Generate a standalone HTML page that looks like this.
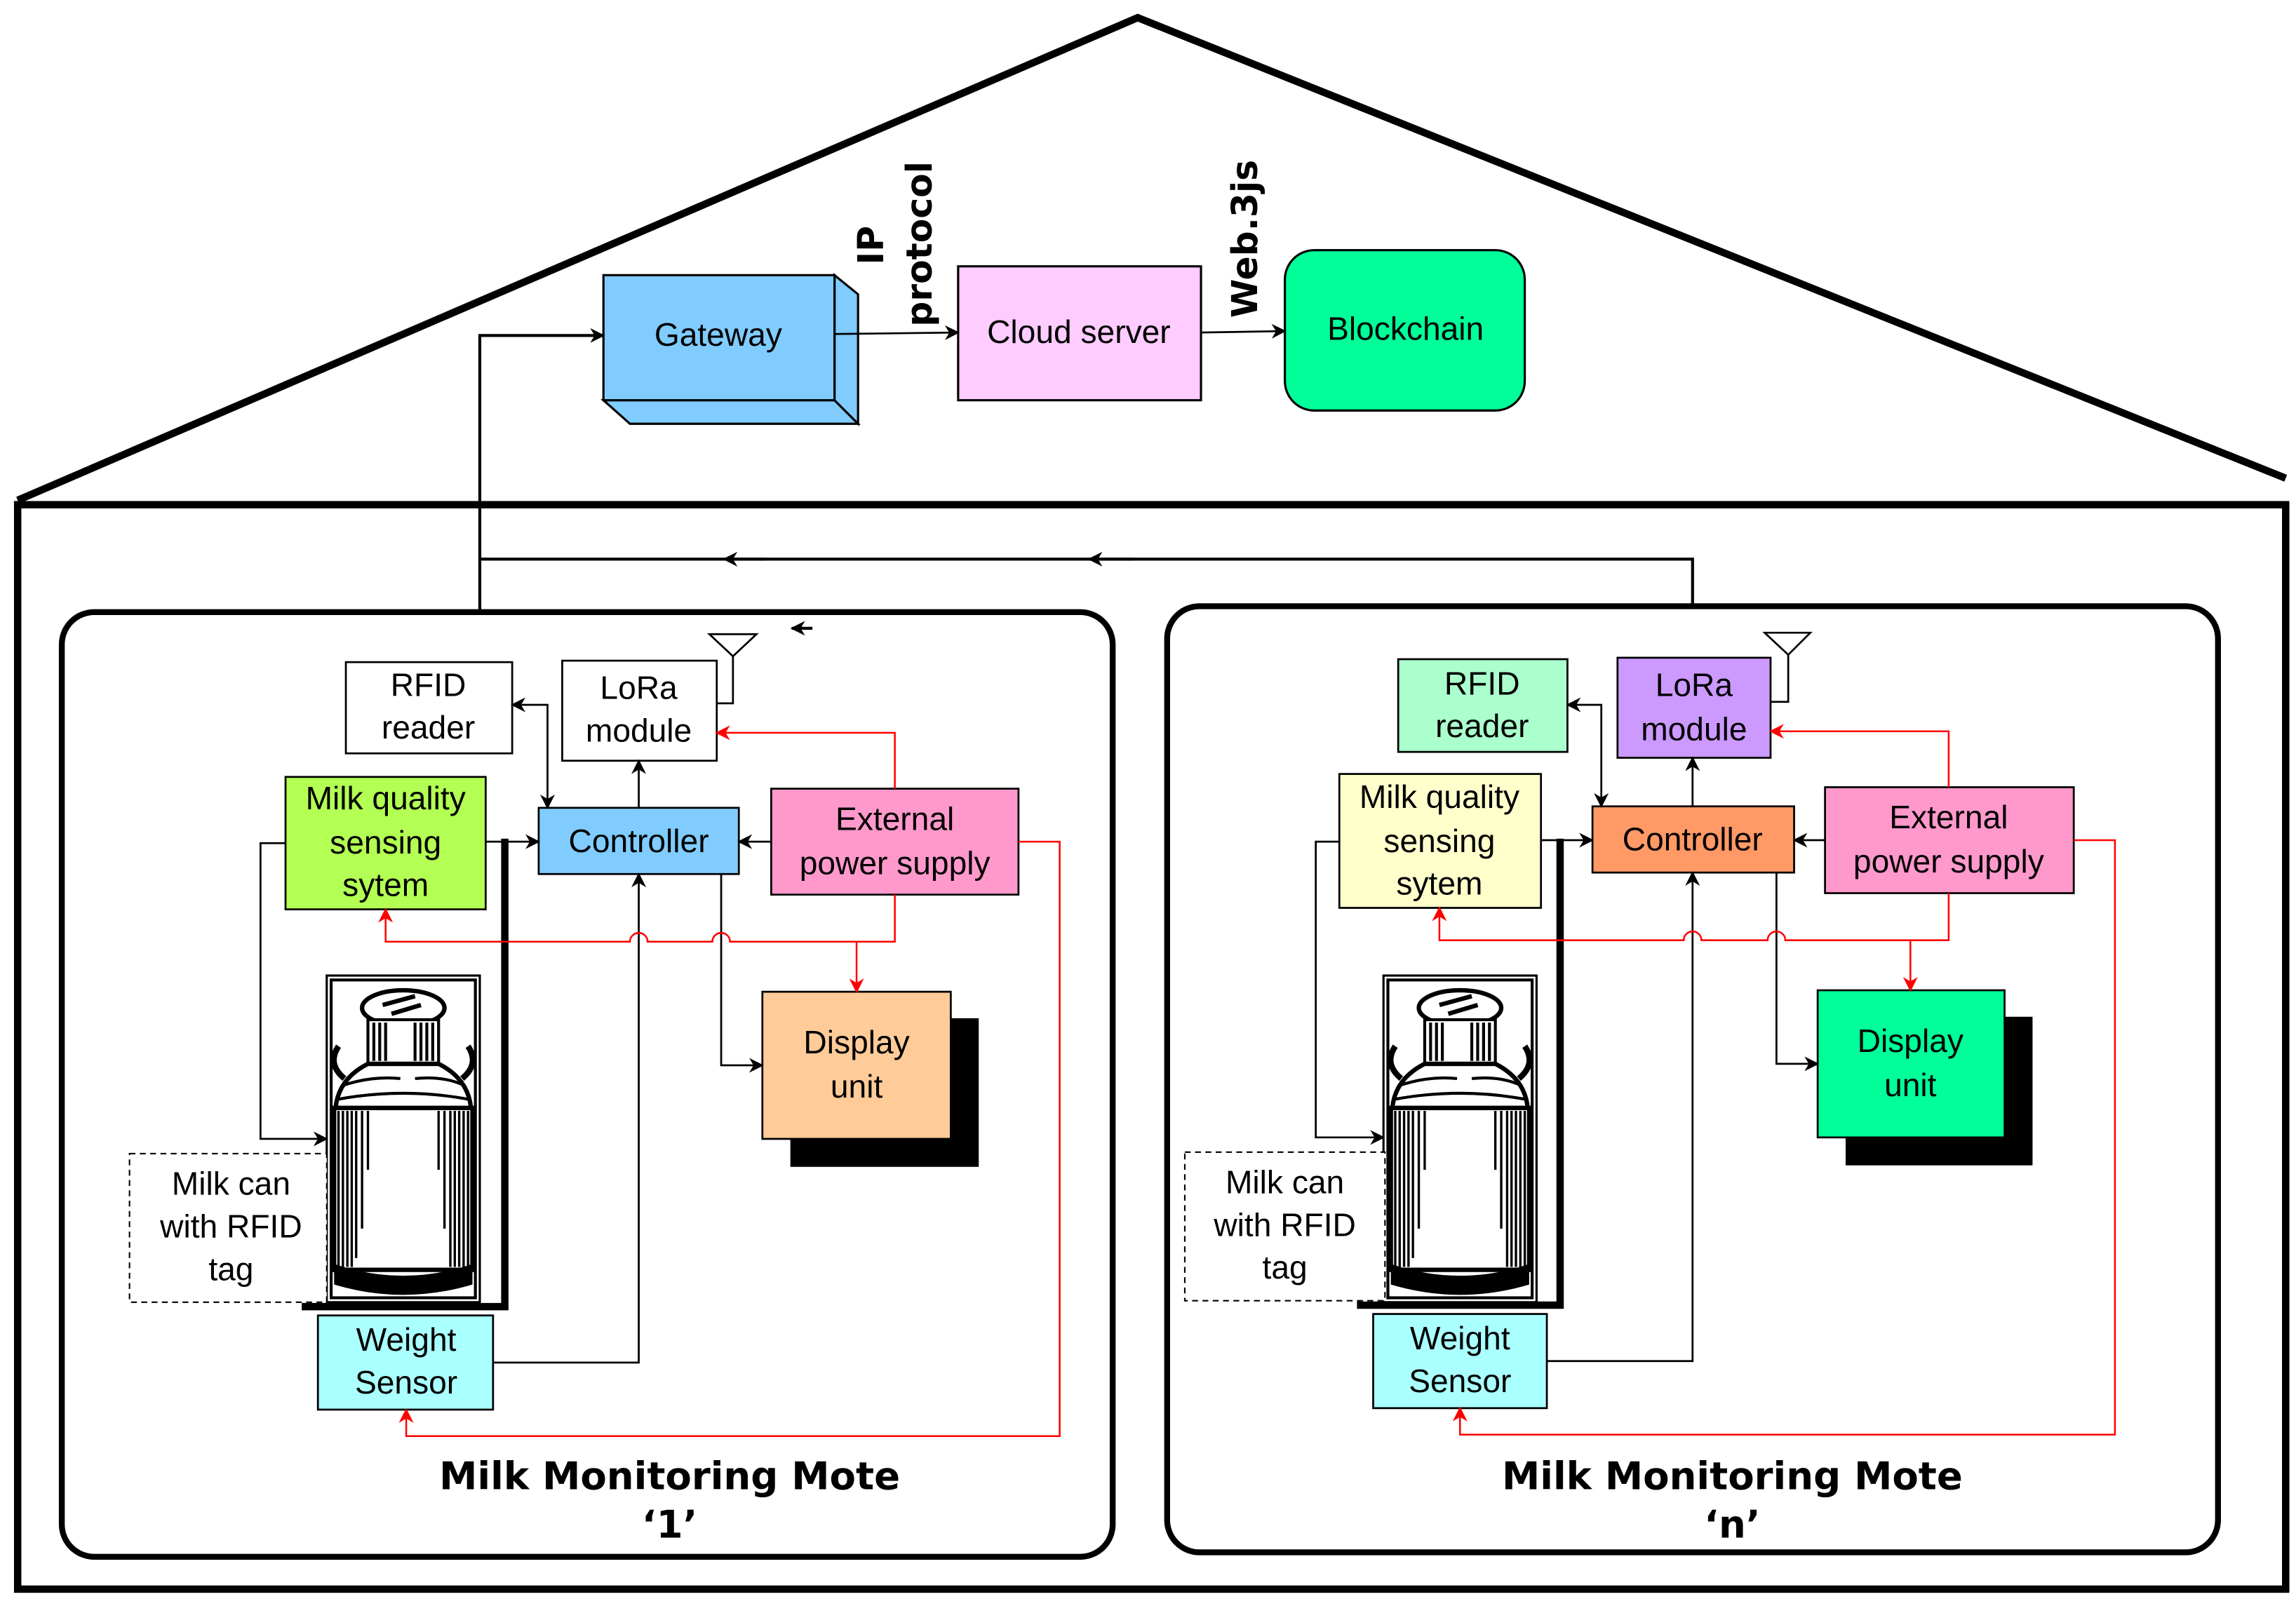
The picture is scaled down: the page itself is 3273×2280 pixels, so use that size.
<!DOCTYPE html>
<html><head><meta charset="utf-8"><style>
html,body{margin:0;padding:0;background:#fff}
svg{display:block}
text{font-family:"Liberation Sans",sans-serif;font-size:22px;fill:#000}
.b{font-family:"DejaVu Sans","Liberation Sans",sans-serif;font-weight:bold;font-size:26px}
.v{font-family:"DejaVu Sans","Liberation Sans",sans-serif;font-weight:bold;font-size:24px}
</style></head><body>
<svg width="3273" height="2280" viewBox="0 0 1560 1086.7" xmlns="http://www.w3.org/2000/svg">
<defs>
<marker id="a" markerWidth="10" markerHeight="10" refX="9" refY="5" orient="auto" markerUnits="userSpaceOnUse"><path d="M0,0 L10,5 L0,10 L3,5z" fill="#000"/></marker>
<marker id="r" markerWidth="10" markerHeight="10" refX="9" refY="5" orient="auto" markerUnits="userSpaceOnUse"><path d="M0,0 L10,5 L0,10 L3,5z" fill="#f00"/></marker>
<marker id="as" markerWidth="10" markerHeight="10" refX="1" refY="5" orient="auto" markerUnits="userSpaceOnUse"><path d="M10,0 L0,5 L10,10 L7,5z" fill="#000"/></marker>
<g id="can">
<rect x="0" y="0" width="104" height="222" fill="#fff" stroke="#000" stroke-width="1.5"/>
<rect x="3" y="3" width="98" height="216" fill="none" stroke="#000" stroke-width="2"/>
<ellipse cx="52" cy="22" rx="28" ry="12" fill="#fff" stroke="#000" stroke-width="3"/>
<path d="M38,20 L60,14 M44,26 L64,20" stroke="#000" stroke-width="3"/>
<rect x="28" y="30" width="48" height="30" fill="#fff" stroke="#000" stroke-width="2"/>
<path d="M32,32v26M36,32v26M40,32v26M60,32v26M64,32v26M68,32v26M72,32v26" stroke="#000" stroke-width="2"/>
<path d="M28,60 Q8,70 6,90 L98,90 Q96,70 76,60z" fill="#fff" stroke="#000" stroke-width="3"/>
<path d="M10,75 Q30,68 50,70 M60,70 Q80,68 94,75 M8,84 Q52,76 96,84" stroke="#000" stroke-width="2" fill="none"/>
<path d="M8,48 Q0,60 12,70" stroke="#000" stroke-width="4" fill="none"/>
<path d="M96,48 Q104,60 92,70" stroke="#000" stroke-width="4" fill="none"/>
<rect x="5" y="90" width="94" height="110" fill="#fff" stroke="#000" stroke-width="3"/>
<path d="M8,92v106M11,92v106M14,92v106M17,92v106M20,92v100M24,92v80M28,92v40M76,92v40M80,92v80M84,92v106M87,92v106M90,92v106M93,92v106M96,92v106" stroke="#000" stroke-width="1.6"/>
<path d="M5,196 Q52,212 99,196 L99,210 Q52,224 5,210z" fill="#000"/>
</g>
</defs>

<rect x="12" y="343" width="1541" height="737" fill="none" stroke="#000" stroke-width="5"/>
<polyline points="12,340 773,12 1553,325" fill="none" stroke="#000" stroke-width="5"/>

<polygon points="410,272 567,272 583,288 428,288" fill="#80ccff" stroke="#000" stroke-width="1.5"/>
<polygon points="567,187 583,200 583,288 567,272" fill="#80ccff" stroke="#000" stroke-width="1.5"/>
<rect x="410" y="187" width="157" height="85" fill="#80ccff" stroke="#000" stroke-width="1.5"/>
<text x="488" y="235" text-anchor="middle">Gateway</text>
<rect x="651" y="181" width="165" height="91" fill="#ffccff" stroke="#000" stroke-width="1.5"/>
<text x="733" y="233" text-anchor="middle">Cloud server</text>
<rect x="873" y="170" width="163" height="109" rx="20" fill="#00ff99" stroke="#000" stroke-width="1.5"/>
<text x="955" y="231" text-anchor="middle">Blockchain</text>
<line x1="567" y1="227" x2="651" y2="226" stroke="#000" stroke-width="1.3" marker-end="url(#a)"/>
<line x1="816" y1="226" x2="873" y2="225" stroke="#000" stroke-width="1.3" marker-end="url(#a)"/>
<text class="v" transform="translate(600,180) rotate(-90)">IP</text>
<text class="v" transform="translate(633,222) rotate(-90)">protocol</text>
<text class="v" transform="translate(854,216) rotate(-90)">Web.3js</text>

<polyline points="326,416 326,228 410,228" fill="none" stroke="#000" stroke-width="2" marker-end="url(#a)"/>
<polyline points="1150,412 1150,380 326,380" fill="none" stroke="#000" stroke-width="2"/>
<line x1="520" y1="380" x2="492" y2="380" stroke="#000" stroke-width="2" marker-end="url(#a)"/>
<line x1="770" y1="380" x2="740" y2="380" stroke="#000" stroke-width="2" marker-end="url(#a)"/>
<line x1="552" y1="427" x2="538" y2="427" stroke="#000" stroke-width="2" marker-end="url(#a)"/>

<rect x="42" y="416" width="714" height="642" rx="22" fill="none" stroke="#000" stroke-width="4"/>
<rect x="235" y="450" width="113" height="62" fill="#fff" stroke="#000" stroke-width="1.3"/>
<text x="291" y="473" text-anchor="middle">RFID</text><text x="291" y="502" text-anchor="middle">reader</text>
<rect x="382" y="449" width="105" height="68" fill="#fff" stroke="#000" stroke-width="1.3"/>
<text x="434" y="475" text-anchor="middle">LoRa</text><text x="434" y="504" text-anchor="middle">module</text>
<polygon points="482,431 514,431 498,446" fill="none" stroke="#000" stroke-width="1.3"/>
<polyline points="498,446 498,478 487,478" fill="none" stroke="#000" stroke-width="1.3"/>
<rect x="194" y="528" width="136" height="90" fill="#b3ff53" stroke="#000" stroke-width="1.3"/>
<text x="262" y="550" text-anchor="middle">Milk quality</text><text x="262" y="580" text-anchor="middle">sensing</text><text x="262" y="609" text-anchor="middle">sytem</text>
<rect x="366" y="549" width="136" height="45" fill="#80ccff" stroke="#000" stroke-width="1.3"/>
<text x="434" y="579" text-anchor="middle">Controller</text>
<rect x="524" y="536" width="168" height="72" fill="#ff99cc" stroke="#000" stroke-width="1.3"/>
<text x="608" y="564" text-anchor="middle">External</text><text x="608" y="594" text-anchor="middle">power supply</text>
<rect x="537" y="692" width="128" height="101" fill="#000"/>
<rect x="518" y="674" width="128" height="100" fill="#ffcc99" stroke="#000" stroke-width="1.3"/>
<text x="582" y="716" text-anchor="middle">Display</text><text x="582" y="746" text-anchor="middle">unit</text>
<use href="#can" x="222" y="663"/>
<rect x="88" y="784" width="134" height="101" fill="#fff" stroke="#000" stroke-width="1" stroke-dasharray="4,3"/>
<text x="157" y="812" text-anchor="middle">Milk can</text><text x="157" y="841" text-anchor="middle">with RFID</text><text x="157" y="870" text-anchor="middle">tag</text>
<rect x="216" y="894" width="119" height="64" fill="#aaffff" stroke="#000" stroke-width="1.3"/>
<text x="276" y="918" text-anchor="middle">Weight</text><text x="276" y="947" text-anchor="middle">Sensor</text>
<polyline points="343,570 343,888 205,888" fill="none" stroke="#000" stroke-width="5"/>
<line x1="330" y1="572" x2="366" y2="572" stroke="#000" stroke-width="1.3" marker-end="url(#a)"/>
<line x1="434" y1="549" x2="434" y2="517" stroke="#000" stroke-width="1.3" marker-end="url(#a)"/>
<polyline points="372,549 372,479 348,479" fill="none" stroke="#000" stroke-width="1.3" marker-end="url(#a)" marker-start="url(#as)"/>
<line x1="524" y1="572" x2="502" y2="572" stroke="#000" stroke-width="1.3" marker-end="url(#a)"/>
<polyline points="490,594 490,724 518,724" fill="none" stroke="#000" stroke-width="1.3" marker-end="url(#a)"/>
<polyline points="335,926 434,926 434,594" fill="none" stroke="#000" stroke-width="1.3" marker-end="url(#a)"/>
<polyline points="194,573 177,573 177,774 222,774" fill="none" stroke="#000" stroke-width="1.3" marker-end="url(#a)"/>
<polyline points="608,536 608,498 487,498" fill="none" stroke="#f00" stroke-width="1.2" marker-end="url(#r)"/>
<path d="M608,608 V640 H496 a6,6 0 0 0 -12,0 H440 a6,6 0 0 0 -12,0 H262 V618" fill="none" stroke="#f00" stroke-width="1.2" marker-end="url(#r)"/>
<line x1="582" y1="640" x2="582" y2="674" stroke="#f00" stroke-width="1.2" marker-end="url(#r)"/>
<polyline points="692,572 720,572 720,976 276,976 276,958" fill="none" stroke="#f00" stroke-width="1.2" marker-end="url(#r)"/>
<text class="b" x="455" y="1012" text-anchor="middle">Milk Monitoring Mote</text>
<text class="b" x="455" y="1045" text-anchor="middle">‘1’</text>

<rect x="793" y="412" width="714" height="643" rx="22" fill="none" stroke="#000" stroke-width="4"/>
<rect x="950" y="448" width="115" height="63" fill="#aaffcc" stroke="#000" stroke-width="1.3"/>
<text x="1007" y="472" text-anchor="middle">RFID</text><text x="1007" y="501" text-anchor="middle">reader</text>
<rect x="1099" y="447" width="104" height="68" fill="#cc99ff" stroke="#000" stroke-width="1.3"/>
<text x="1151" y="473" text-anchor="middle">LoRa</text><text x="1151" y="503" text-anchor="middle">module</text>
<polygon points="1199,430 1230,430 1215,445" fill="none" stroke="#000" stroke-width="1.3"/>
<polyline points="1215,445 1215,477 1203,477" fill="none" stroke="#000" stroke-width="1.3"/>
<rect x="910" y="526" width="137" height="91" fill="#ffffcc" stroke="#000" stroke-width="1.3"/>
<text x="978" y="549" text-anchor="middle">Milk quality</text><text x="978" y="579" text-anchor="middle">sensing</text><text x="978" y="608" text-anchor="middle">sytem</text>
<rect x="1082" y="548" width="137" height="45" fill="#ff9966" stroke="#000" stroke-width="1.3"/>
<text x="1150" y="578" text-anchor="middle">Controller</text>
<rect x="1240" y="535" width="169" height="72" fill="#ff99cc" stroke="#000" stroke-width="1.3"/>
<text x="1324" y="563" text-anchor="middle">External</text><text x="1324" y="593" text-anchor="middle">power supply</text>
<rect x="1254" y="691" width="127" height="101" fill="#000"/>
<rect x="1235" y="673" width="127" height="100" fill="#00ff99" stroke="#000" stroke-width="1.3"/>
<text x="1298" y="715" text-anchor="middle">Display</text><text x="1298" y="745" text-anchor="middle">unit</text>
<use href="#can" x="940" y="663"/>
<rect x="805" y="783" width="136" height="101" fill="#fff" stroke="#000" stroke-width="1" stroke-dasharray="4,3"/>
<text x="873" y="811" text-anchor="middle">Milk can</text><text x="873" y="840" text-anchor="middle">with RFID</text><text x="873" y="869" text-anchor="middle">tag</text>
<rect x="933" y="893" width="118" height="64" fill="#aaffff" stroke="#000" stroke-width="1.3"/>
<text x="992" y="917" text-anchor="middle">Weight</text><text x="992" y="946" text-anchor="middle">Sensor</text>
<polyline points="1060,570 1060,887 922,887" fill="none" stroke="#000" stroke-width="5"/>
<line x1="1047" y1="571" x2="1082" y2="571" stroke="#000" stroke-width="1.3" marker-end="url(#a)"/>
<line x1="1150" y1="548" x2="1150" y2="515" stroke="#000" stroke-width="1.3" marker-end="url(#a)"/>
<polyline points="1088,548 1088,479 1065,479" fill="none" stroke="#000" stroke-width="1.3" marker-end="url(#a)" marker-start="url(#as)"/>
<line x1="1240" y1="571" x2="1219" y2="571" stroke="#000" stroke-width="1.3" marker-end="url(#a)"/>
<polyline points="1207,593 1207,723 1235,723" fill="none" stroke="#000" stroke-width="1.3" marker-end="url(#a)"/>
<polyline points="1051,925 1150,925 1150,593" fill="none" stroke="#000" stroke-width="1.3" marker-end="url(#a)"/>
<polyline points="910,572 894,572 894,773 940,773" fill="none" stroke="#000" stroke-width="1.3" marker-end="url(#a)"/>
<polyline points="1324,535 1324,497 1203,497" fill="none" stroke="#f00" stroke-width="1.2" marker-end="url(#r)"/>
<path d="M1324,607 V639 H1213 a6,6 0 0 0 -12,0 H1156 a6,6 0 0 0 -12,0 H978 V617" fill="none" stroke="#f00" stroke-width="1.2" marker-end="url(#r)"/>
<line x1="1298" y1="639" x2="1298" y2="673" stroke="#f00" stroke-width="1.2" marker-end="url(#r)"/>
<polyline points="1409,571 1437,571 1437,975 992,975 992,957" fill="none" stroke="#f00" stroke-width="1.2" marker-end="url(#r)"/>
<text class="b" x="1177" y="1012" text-anchor="middle">Milk Monitoring Mote</text>
<text class="b" x="1177" y="1045" text-anchor="middle">‘n’</text>
</svg>
</body></html>
